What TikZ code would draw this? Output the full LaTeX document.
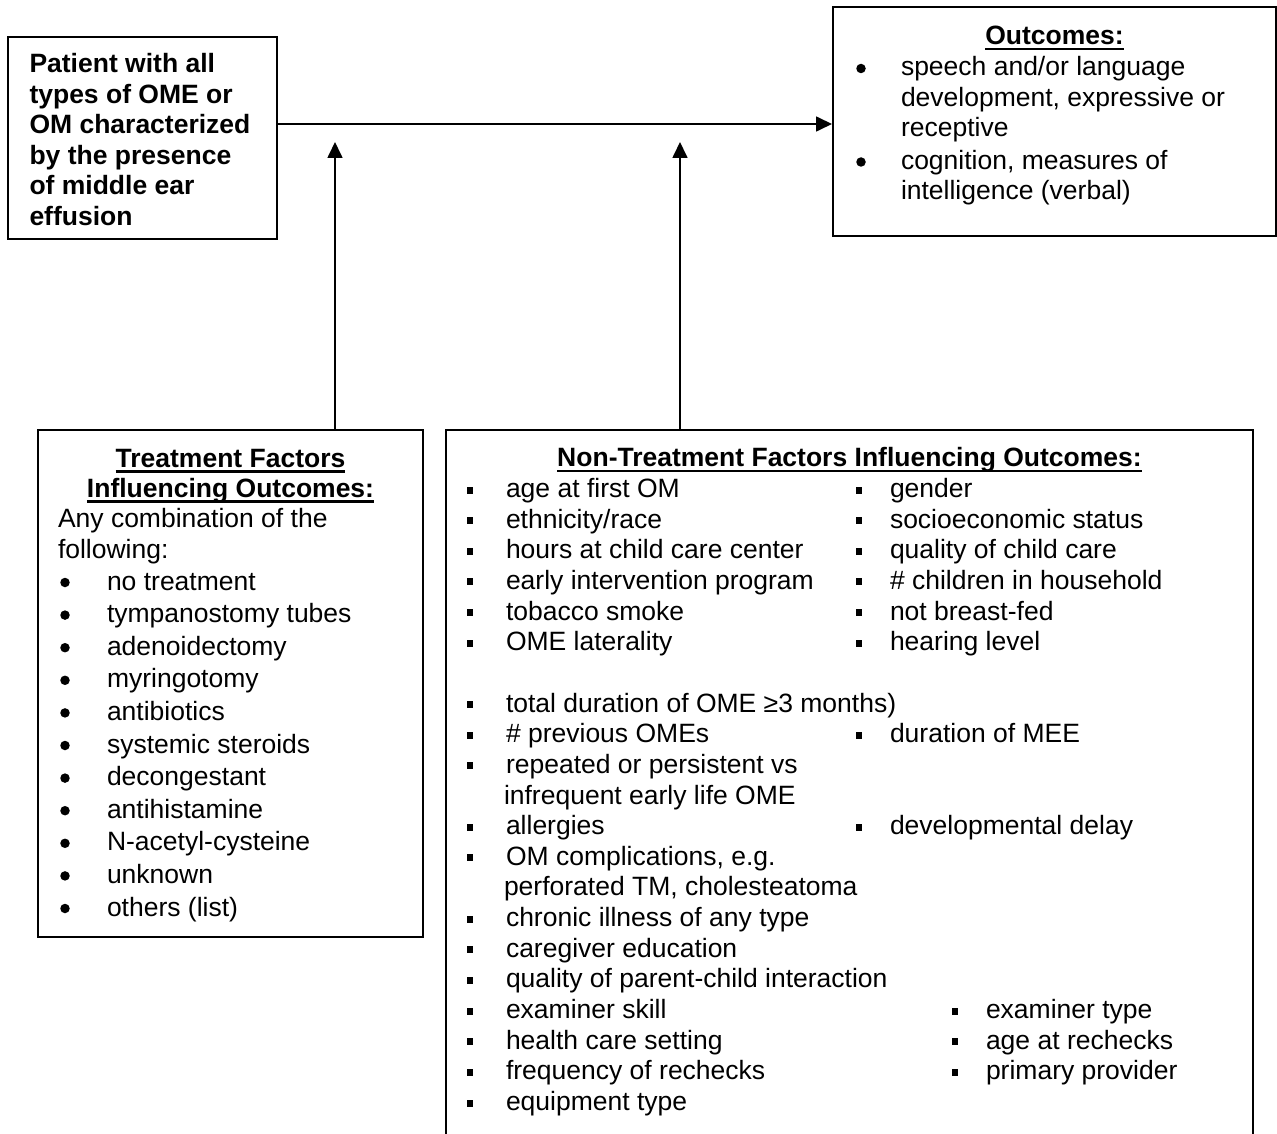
\documentclass[tikz,border=0pt]{standalone}
\usepackage{fontspec}
\setmainfont{Liberation Sans}
\usetikzlibrary{arrows.meta}
\newcommand\fs{\fontsize{26.5pt}{30.5pt}\selectfont}
\newcommand\sqbul{\rule[4pt]{5.5pt}{7pt}}
% name, bullet x, text x, baseline y, text
\newcommand\nitem[5]{\node[txt] (#1b) at (#2,#4) {\sqbul};\node[txt] (#1) at (#3,#4) {#5};}
\newcommand\ritem[5]{\node[dotst] (#1b) at (#2,#4-7.5) {};\node[txt] (#1) at (#3,#4) {#5};}
\begin{document}
\begin{tikzpicture}[x=1pt,y=-1pt,
  boxst/.style={draw=black, line width=2pt, inner sep=0pt},
  txt/.style={anchor=base west, inner sep=0pt, outer sep=0pt, font=\fs},
  ttl/.style={anchor=base, inner sep=0pt, outer sep=0pt, font=\fs\bfseries},
  dotst/.style={circle, fill=black, inner sep=0pt, minimum size=9.5pt},
  arrst/.style={line width=1.7pt, -{Triangle[length=16pt,width=15pt]}},
  ulst/.style={line width=2.6pt}]
\useasboundingbox[fill=white] (0,0) rectangle (1277,1134);

% boxes
\node[boxst, minimum width=269pt, minimum height=202pt] (pbox) at (142.5,138) {};
\node[boxst, minimum width=443pt, minimum height=229pt] (obox) at (1054.5,121.5) {};
\node[boxst, minimum width=385pt, minimum height=507pt] (tbox) at (230.5,683.5) {};
\node[inner sep=0pt, minimum width=807pt, minimum height=714pt] (nbox) at (849.5,787) {};
\draw[line width=2pt] (nbox.south west) -- (nbox.north west) -- (nbox.north east) -- (nbox.south east);

% connectors
\draw[arrst] ([yshift=14pt]pbox.east) -- ([yshift=14pt]pbox.east -| obox.west);
\coordinate (h1) at (335,142);
\coordinate (h2) at (680,142);
\draw[arrst] (tbox.north -| h1) -- (h1);
\draw[arrst] (nbox.north -| h2) -- (h2);

% patient box
\node[txt, font=\fs\bfseries] (p1) at (29.5,72.5) {Patient with all};
\node[txt, font=\fs\bfseries] (p2) at (29.5,103.1) {types of OME or};
\node[txt, font=\fs\bfseries] (p3) at (29.5,133.7) {OM characterized};
\node[txt, font=\fs\bfseries] (p4) at (29.5,164.3) {by the presence};
\node[txt, font=\fs\bfseries] (p5) at (29.5,194.9) {of middle ear};
\node[txt, font=\fs\bfseries] (p6) at (29.5,225.5) {effusion};

% outcomes box
\node[ttl] (otitle) at (1054.5,44.5) {Outcomes:};
\draw[ulst] ([yshift=-4.5pt]otitle.base west) -- ([yshift=-4.5pt]otitle.base east);
\ritem{o1}{861}{901}{76}{speech and/or language}
\node[txt] (o1a) at (901,106.5) {development, expressive or};
\node[txt] (o1c) at (901,137) {receptive};
\ritem{o2}{861}{901}{169.5}{cognition, measures of}
\node[txt] (o2a) at (901,200) {intelligence (verbal)};

% treatment box
\node[ttl] (tt1) at (230.5,467) {Treatment Factors};
\draw[ulst] ([yshift=-4.5pt]tt1.base west) -- ([yshift=-4.5pt]tt1.base east);
\node[ttl] (tt2) at (230.5,497) {Influencing Outcomes:};
\draw[ulst] ([yshift=-4.5pt]tt2.base west) -- ([yshift=-4.5pt]tt2.base east);
\node[txt] (ta) at (58,527.5) {Any combination of the};
\node[txt] (tb) at (58,558) {following:};
\ritem{t1}{65}{107}{590}{no treatment}
\ritem{t2}{65}{107}{622.6}{tympanostomy tubes}
\ritem{t3}{65}{107}{655.2}{adenoidectomy}
\ritem{t4}{65}{107}{687.8}{myringotomy}
\ritem{t5}{65}{107}{720.4}{antibiotics}
\ritem{t6}{65}{107}{753}{systemic steroids}
\ritem{t7}{65}{107}{785.6}{decongestant}
\ritem{t8}{65}{107}{818.2}{antihistamine}
\ritem{t9}{65}{107}{850.8}{N-acetyl-cysteine}
\ritem{t10}{65}{107}{883.4}{unknown}
\ritem{t11}{65}{107}{916}{others (list)}

% non-treatment box
\node[ttl] (nt) at (849.5,466.5) {Non-Treatment Factors Influencing Outcomes:};
\draw[ulst] ([yshift=-4.5pt]nt.base west) -- ([yshift=-4.5pt]nt.base east);
\nitem{a0}{467}{506}{497.5}{age at first OM}
\nitem{a1}{467}{506}{528.15}{ethnicity/race}
\nitem{a2}{467}{506}{558.8}{hours at child care center}
\nitem{a3}{467}{506}{589.45}{early intervention program}
\nitem{a4}{467}{506}{620.1}{tobacco smoke}
\nitem{a5}{467}{506}{650.75}{OME laterality}
\nitem{b0}{856}{890}{497.5}{gender}
\nitem{b1}{856}{890}{528.15}{socioeconomic status}
\nitem{b2}{856}{890}{558.8}{quality of child care}
\nitem{b3}{856}{890}{589.45}{\# children in household}
\nitem{b4}{856}{890}{620.1}{not breast-fed}
\nitem{b5}{856}{890}{650.75}{hearing level}
\nitem{a7}{467}{506}{712.05}{total duration of OME ≥3 months)}
\nitem{a8}{467}{506}{742.7}{\# previous OMEs}
\nitem{b8}{856}{890}{742.7}{duration of MEE}
\nitem{a9}{467}{506}{773.35}{repeated or persistent vs}
\node[txt] (a10) at (504,804) {infrequent early life OME};
\nitem{a11}{467}{506}{834.65}{allergies}
\nitem{b11}{856}{890}{834.65}{developmental delay}
\nitem{a12}{467}{506}{865.3}{OM complications, e.g.}
\node[txt] (a13) at (504,895.95) {perforated TM, cholesteatoma};
\nitem{a14}{467}{506}{926.6}{chronic illness of any type}
\nitem{a15}{467}{506}{957.25}{caregiver education}
\nitem{a16}{467}{506}{987.9}{quality of parent-child interaction}
\nitem{a17}{467}{506}{1018.55}{examiner skill}
\nitem{c17}{952}{986}{1018.55}{examiner type}
\nitem{a18}{467}{506}{1049.2}{health care setting}
\nitem{c18}{952}{986}{1049.2}{age at rechecks}
\nitem{a19}{467}{506}{1079.85}{frequency of rechecks}
\nitem{c19}{952}{986}{1079.85}{primary provider}
\nitem{a20}{467}{506}{1110.5}{equipment type}
\end{tikzpicture}
\end{document}
